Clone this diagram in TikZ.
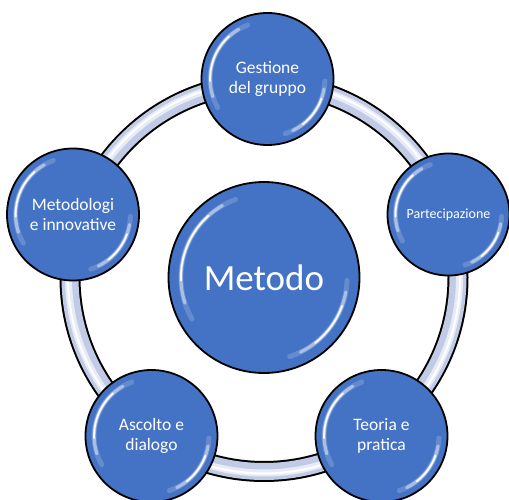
\documentclass[tikz,border=0pt]{standalone}
\usepackage{fontspec}
\setmainfont{Carlito}
\usetikzlibrary{backgrounds}

\definecolor{ballblue}{HTML}{4472C4}
\definecolor{ballrim}{HTML}{3A63AE}
\definecolor{ringfill}{HTML}{C2CBE6}
\definecolor{ringlight}{HTML}{E6EBF6}

\pgfdeclareradialshading{ballshade}{\pgfpoint{0bp}{0bp}}{%
  color(0bp)=(ballblue); color(42bp)=(ballblue);
  color(49bp)=(ballrim); color(50bp)=(ballrim); color(100bp)=(ballrim)}

\tikzset{
  ball/.style={circle, draw=black, line width=1.8pt, shading=ballshade,
    text=white, align=center, inner sep=0pt, minimum size=2*#1,
    path picture={
      % glossy highlights: upper-left and lower-right
      \foreach \sa/\ea/\w/\o in {110/210/5/0.18, 120/198/3.2/0.45, 132/182/1.8/0.95,
                                 -2/-72/5/0.18, -10/-64/3.2/0.45, -20/-52/1.8/0.95}
        \draw[white, opacity=\o, line width=\w pt, line cap=round]
          ([shift={(\sa:0.87*#1)}]path picture bounding box.center)
          arc[start angle=\sa, end angle=\ea, radius=0.87*#1];
    }},
  lbl/.style={font=\fontsize{17.5}{20}\selectfont},
}

\begin{document}
\begin{tikzpicture}[x=1pt, y=1pt]
  \useasboundingbox (0,0) rectangle (509,499);

  % central topic
  \node[ball=95.5, font=\fontsize{37}{40}\selectfont] (c) at (264,221.5) {Metodo};

  % surrounding topics
  \node[ball=66, lbl] (top)   at (267.5,420) {Gestione\\del gruppo};
  \node[ball=61, font=\fontsize{14}{16}\selectfont] (right) at (448.5,284.5) {Partecipazione};
  \node[ball=66, lbl] (br)    at (381.5,63) {Teoria e\\pratica};
  \node[ball=66, lbl] (bl)    at (151.5,63) {Ascolto e\\dialogo};
  \node[ball=66, lbl] (left)  at (73,284.5) {Metodologi\\e innovative};

  % connecting ring behind the topics
  \begin{scope}[on background layer]
    \draw[line width=21pt, black] (c) circle[radius=194];
    \draw[line width=17pt, ringfill] (c) circle[radius=194];
    \draw[line width=7pt, ringlight] (c) circle[radius=195.5];
    \draw[line width=2.2pt, white, opacity=0.9] (c) circle[radius=196];
  \end{scope}
\end{tikzpicture}
\end{document}
